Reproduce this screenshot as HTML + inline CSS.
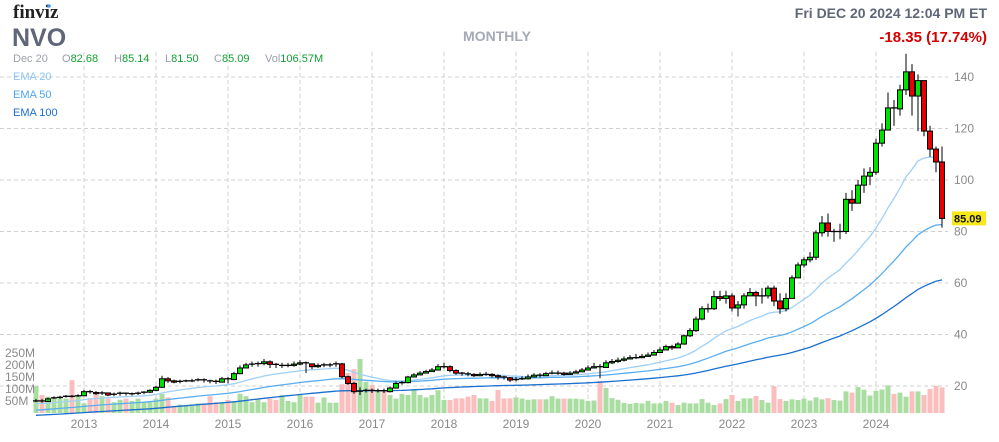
<!DOCTYPE html>
<html><head><meta charset="utf-8"><style>
body{margin:0;background:#fff;width:999px;height:442px;overflow:hidden;font-family:"Liberation Sans",Arial,sans-serif}
</style></head><body>
<svg id="chart" width="999" height="442" xmlns="http://www.w3.org/2000/svg" style="position:absolute;left:0;top:0">
<g id="grid"></g>
<g id="vol"></g>
<g id="ema"></g>
<g id="candles"></g>
<g id="axes"></g>
<text x="13" y="18" font-family="Liberation Serif,serif" font-weight="bold" font-size="19" fill="#222">finviz</text>
<circle cx="49" cy="6" r="1.8" fill="#3d9be9"/>
<text x="12" y="46" font-weight="bold" font-size="25" fill="#5e6678">NVO</text>
<text x="497" y="41" text-anchor="middle" font-weight="bold" font-size="14" fill="#a3a9b6">MONTHLY</text>
<text x="987" y="18" text-anchor="end" font-weight="bold" font-size="14" fill="#5e6678">Fri DEC 20 2024 12:04 PM ET</text>
<text x="987" y="42" text-anchor="end" font-weight="bold" font-size="15" fill="#d60000">-18.35 (17.74%)</text>
<g font-size="11">
<text x="13" y="62" fill="#9aa0ab">Dec 20</text>
<text x="62" y="62" fill="#9aa0ab">O<tspan fill="#12a033">82.68</tspan></text>
<text x="114" y="62" fill="#9aa0ab">H<tspan fill="#12a033">85.14</tspan></text>
<text x="165" y="62" fill="#9aa0ab">L<tspan fill="#12a033">81.50</tspan></text>
<text x="214" y="62" fill="#9aa0ab">C<tspan fill="#12a033">85.09</tspan></text>
<text x="265" y="62" fill="#9aa0ab">Vol<tspan fill="#12a033">106.57M</tspan></text>
</g>
<text x="13" y="80" font-size="11" fill="#8cc4f5">EMA 20</text>
<text x="13" y="98" font-size="11" fill="#4ea6ee">EMA 50</text>
<text x="13" y="116" font-size="11" fill="#1a6fcf">EMA 100</text>
</svg>
<script>
const startYear=2012,startMonth=5;
const closes=[14.2,14,15,15.4,15.6,16,15.8,16.2,
17.8,17.5,17,17.3,16.5,16.8,17.2,16.8,17,17.2,17.6,18.3,
19.5,22.8,22,21.5,21.8,22,22,22.4,22,21.8,21.5,22.8,
22.5,24.8,27,28.2,28.5,28.7,29.4,28.4,28,28,28,28.5,
29,28.6,27.5,28,28.2,28.2,28.6,23.6,21,17.8,18,18.3,
18,18.2,17.8,19.2,21,21.3,23.5,24.3,25,25.6,26.2,27.5,
27.5,26,25,24.7,24.5,24,24.5,24.5,24,23.5,23.2,22.3,
22.5,22.8,23.5,24.2,24,24.8,25,25,24.5,25,25.5,26.2,
27,27.5,27.2,29,29.5,30,30.5,31,31,31.5,32,33,
34,35.3,34.8,36.3,39.5,41.5,46,50,50,54.7,54,55,
50.3,51.5,55,56.3,55,55,58,53,50,54,62,67,
69,70,79.5,83.3,80,80,80,92.5,91,98,101.5,103,
114.3,119.4,128,127.6,135,142,132.6,138.6,119,112,107,85.09];
const opens0=[13.9];
const highs=[15,15,15.5,16,16.2,16.5,16.5,16.8,
18.5,18.5,18,18,17.5,17.5,17.8,17.5,17.5,17.8,18,18.8,
20,24,23.5,22.5,22.5,22.5,22.8,23,23,22.5,22.5,23.5,
23.5,25.5,28,29,29.5,29.5,30.5,30,29,29,29,29.5,
30,29.5,28.5,28.8,29,29,29.5,29,24,21.5,19.5,19,
19,19,19,19.8,21.8,22,24,25,25.8,26.3,27,28.5,
29,28,26.5,25.5,25.5,25,25.3,25.5,25,24.5,24,23.5,
23.5,23.8,24.5,25,25,25.5,26,26,25.5,25.8,26.3,27,
28,29,28.5,30,30.5,31,31.5,32,32.5,32.5,33,34,
35,36,36,37,40,42.5,47,51,52,57,57,57,
56,53,56,58,57,58,59,59,56,56,63,68,
70,72,80.5,86,87,81,83,95,96,100,104.5,105,
116,122,134,131,137,149,145,141,138,121,113,113];
const lows=[13.8,13.5,14,15,15,15.5,15.5,15.8,
16.2,17,16.5,16.5,16,16,16.2,16.3,16.3,16.5,16.8,17.3,
18,19.3,21.2,21,21,21.5,21.5,21.8,21.3,21,20.8,21.5,
21,22.3,24.5,27,27.5,27.5,28,27,27,27,27.3,27.5,
28,25,26.5,27,27.3,27.3,27.5,23,20.5,17,16.5,17.5,
17.3,17.5,17.3,17.5,19,20.5,21,23.5,24.3,25,25.5,26,
26.8,25.3,24.3,24,23.8,23.5,23.8,24,23.3,22.5,22.5,21.5,
21.8,22.3,22.5,23.5,23.3,24,24.5,24.3,24,24.3,25,25.5,
26.3,26.8,23,27,28.5,29,29.5,30.5,30.5,30.8,31.5,32.5,
33.3,34.5,34,35,36,39,41,45.5,48.5,49.5,53,52,
49,47,50,55,51,52,54,51,48,49,54,62,
66,68,69,78,78,76,77,79,88,93,95,98,
102,113,122,121,125,133,125,119,117,109,103,81.5];
const volumes=[112,75,68,65,62,60,137,70,
40,62,75,70,60,45,55,60,50,60,45,45,
60,80,65,30,35,30,30,40,40,70,45,45,
55,50,80,70,45,60,45,60,55,75,50,45,
80,68,68,43,65,43,43,120,167,183,225,130,
117,95,95,75,60,80,75,95,75,65,75,95,
54,54,61,61,68,75,61,61,50,96,61,61,
65,60,55,57,57,57,70,60,60,60,60,57,
50,52,133,104,62,55,42,38,42,40,50,40,
40,50,43,33,43,40,40,58,43,33,40,58,
75,50,61,61,71,54,43,112,58,50,57,54,
60,52,65,57,62,54,52,90,85,108,97,73,
92,98,115,80,85,68,90,90,75,100,113,106.57];
const emaPeriods=[20,50,100];
const emaSeeds=[13,10.5,8.5];
const emaColors=["#9fd0f8","#5aaef0","#1a6fcf"];
const priceTicks=[20,40,60,80,100,120,140];
const volTicks=[50,100,150,200,250];
const volTickLabels=["50M","100M","150M","200M","250M"];
const yearLabels=[2013,2014,2015,2016,2017,2018,2019,2020,2021,2022,2023,2024];

const NS="http://www.w3.org/2000/svg";
const X0=36,DX=6,PLOT_R=948;
function xOf(i){return X0+DX*i;}
function xOfYear(y){return xOf((y-startYear)*12+(1-startMonth));}
function yP(p){return 77+(140-p)*2.575;}
function yV(v){return 413-v*0.24;}
function mk(tag,attrs,parent){const e=document.createElementNS(NS,tag);for(const k in attrs)e.setAttribute(k,attrs[k]);parent.appendChild(e);return e;}
const grid=document.getElementById('grid'),vol=document.getElementById('vol'),ema=document.getElementById('ema'),cg=document.getElementById('candles'),axes=document.getElementById('axes');

priceTicks.forEach(p=>{
  const l=mk('line',{x1:0,x2:PLOT_R,y1:yP(p),y2:yP(p),stroke:'#d0d0d0','stroke-dasharray':'4,3'},grid);
  
  
  const t=mk('text',{x:954,y:yP(p)+4,'font-size':12,fill:'#8a8a8a'},axes);t.textContent=p;
  
  
});
yearLabels.forEach(y=>{
  const x=xOfYear(y);
  const l=mk('line',{x1:x,x2:x,y1:52,y2:413,stroke:'#d0d0d0','stroke-dasharray':'4,3'},grid);
  
  
  const t=mk('text',{x:x,y:428,'text-anchor':'middle','font-size':12,fill:'#8a8a8a'},axes);t.textContent=y;
  
  
});
volTicks.forEach((v,k)=>{
  const t=mk('text',{x:5,y:yV(v)+4,'font-size':12,fill:'#8a8a8a'},axes);t.textContent=volTickLabels[k];
  
  
});
const opens=closes.map((c,i)=>i===0?opens0[0]:closes[i-1]);
volumes.forEach((v,i)=>{
  const up=closes[i]>=opens[i];
  const r=mk('rect',{x:xOf(i)-2.5,y:yV(v),width:5,height:413-yV(v),fill:up?'#aadda2':'#fbbebe'},vol);
  
  
});
emaPeriods.forEach((n,k)=>{
  const a=2/(n+1);let e=emaSeeds[k];const pts=[];
  closes.forEach((c,i)=>{e=c*a+e*(1-a);pts.push(xOf(i)+','+yP(e).toFixed(1));});
  const pl=mk('polyline',{points:pts.join(' '),fill:'none',stroke:emaColors[k],'stroke-width':1.3},ema);
  
  
});
closes.forEach((c,i)=>{
  const o=opens[i],x=xOf(i),up=c>=o;
  const g=mk('g',{},cg);
  
  
  mk('line',{x1:x,x2:x,y1:yP(highs[i]),y2:yP(lows[i]),stroke:'#000','stroke-width':1},g);
  const top=yP(Math.max(o,c)),bot=yP(Math.min(o,c));
  const h=bot-top;
  if(h<1.2){mk('line',{x1:x-3,x2:x+3,y1:top,y2:top,stroke:'#000','stroke-width':1.3},g);}
  else mk('rect',{x:x-2.5,y:top,width:5,height:h,fill:up?'#00e000':'#e60000',stroke:'#000','stroke-width':1},g);
});
const last=closes[closes.length-1];
const lb=mk('rect',{x:952,y:yP(last)-7,width:34,height:14,fill:'#f7e81c'},axes);


const lt=mk('text',{x:954,y:yP(last)+4,'font-size':11,'font-weight':'bold',fill:'#111'},axes);lt.textContent=last.toFixed(2);


</script>
</body></html>
